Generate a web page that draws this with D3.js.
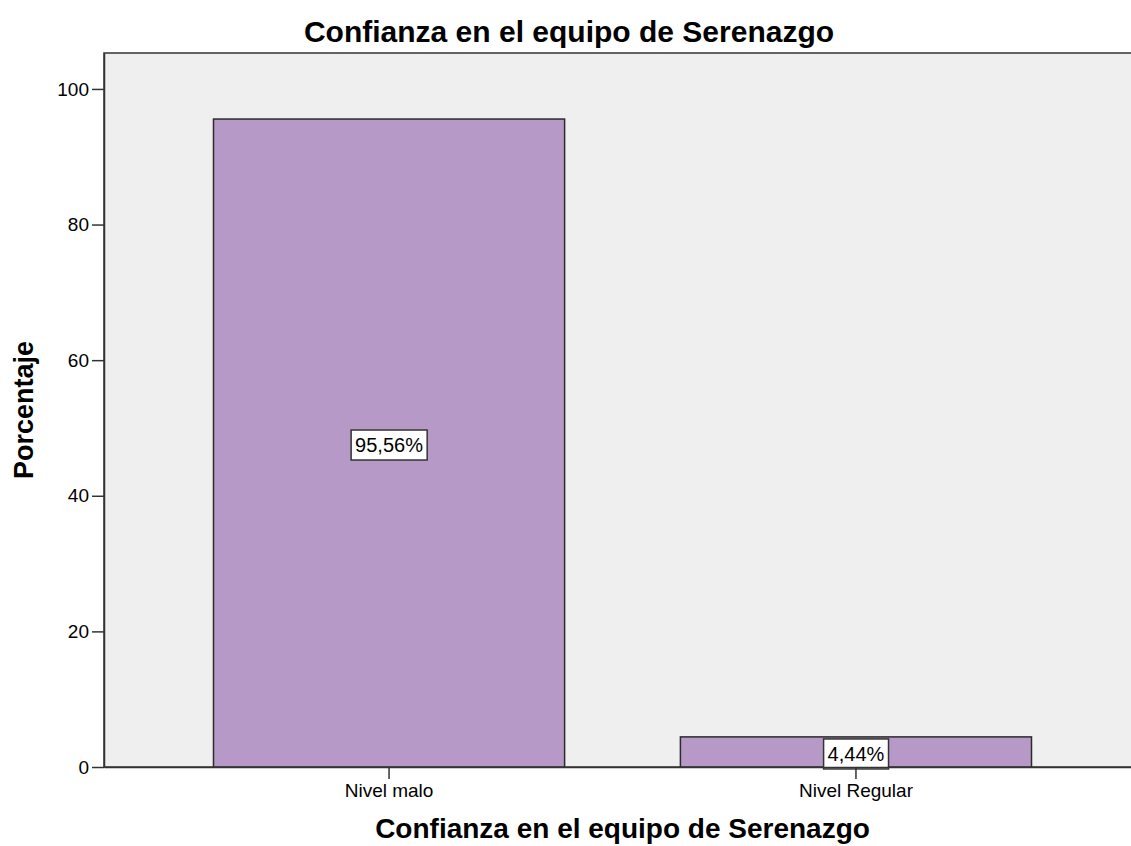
<!DOCTYPE html>
<html>
<head>
<meta charset="utf-8">
<script src="https://cdn.jsdelivr.net/npm/d3@7"></script>
<style>
  body { margin: 0; background: #fff; }
  text { font-family: "Liberation Sans", Arial, sans-serif; fill: #000; }
</style>
</head>
<body>
<div id="chart"></div>
<script>
const categories = ['Nivel malo', 'Nivel Regular'];
const values = [95.56, 4.44];
const labels = ['95,56%', '4,44%'];
const yTicks = [0, 20, 40, 60, 80, 100];

const width = 1131, height = 846;
const plotL = 104, plotR = 1141, plotT = 53, plotB = 767;

const svg = d3.select('#chart').append('svg')
  .attr('width', width)
  .attr('height', height);

// plot background
svg.append('rect')
  .attr('x', plotL).attr('y', plotT)
  .attr('width', plotR - plotL).attr('height', plotB - plotT)
  .attr('fill', '#efefef')
  .attr('stroke', '#333').attr('stroke-width', 1.5);

const x = d3.scaleBand()
  .domain(categories)
  .range([plotL, plotR])
  .paddingInner(0.248)
  .paddingOuter(0.2345);

const y = d3.scaleLinear()
  .domain([0, 105.3])
  .range([plotB, plotT]);

svg.selectAll('.bar')
  .data(values)
  .enter()
  .append('rect')
  .attr('class', 'bar')
  .attr('x', (d, i) => x(categories[i]))
  .attr('y', d => y(d))
  .attr('width', x.bandwidth())
  .attr('height', d => y(0) - y(d))
  .attr('fill', '#b799c8')
  .attr('stroke', '#2b2b2b')
  .attr('stroke-width', 1.5);

// value labels
const lab = svg.selectAll('.lab')
  .data(values)
  .enter()
  .append('g')
  .attr('class', 'lab')
  .attr('transform', (d, i) => `translate(${x(categories[i]) + x.bandwidth() / 2},${(y(d) + y(0)) / 2 + 2})`);

lab.append('text')
  .attr('text-anchor', 'middle')
  .attr('dy', '0.36em')
  .style('font-size', '20px')
  .text((d, i) => labels[i]);

lab.each(function () {
  const g = d3.select(this);
  const bb = g.select('text').node().getBBox();
  g.insert('rect', 'text')
    .attr('x', bb.x - 4).attr('y', -15)
    .attr('width', bb.width + 8).attr('height', 30)
    .attr('fill', '#fff')
    .attr('stroke', '#333').attr('stroke-width', 1.5);
});

// axes
const yAxis = svg.append('g')
  .attr('transform', `translate(${plotL},0)`)
  .call(d3.axisLeft(y).tickValues(yTicks).tickSize(12).tickSizeOuter(0).tickPadding(3));
yAxis.select('.domain').attr('stroke', '#333').attr('stroke-width', 1.5);
yAxis.selectAll('.tick line').attr('stroke', '#333').attr('stroke-width', 1.5);
yAxis.selectAll('.tick text').style('font-size', '19px').style('font-family', '"Liberation Sans", Arial, sans-serif');

const xAxis = svg.append('g')
  .attr('transform', `translate(0,${plotB})`)
  .call(d3.axisBottom(x).tickSize(12).tickSizeOuter(0).tickPadding(5));
xAxis.select('.domain').attr('stroke', '#333').attr('stroke-width', 1.5);
xAxis.selectAll('.tick line').attr('stroke', '#333').attr('stroke-width', 1.5);
xAxis.selectAll('.tick text').style('font-size', '19px').style('font-family', '"Liberation Sans", Arial, sans-serif');

// titles
svg.append('text')
  .attr('x', 569).attr('y', 42)
  .attr('text-anchor', 'middle')
  .style('font-size', '30px').style('font-weight', 'bold')
  .text('Confianza en el equipo de Serenazgo');

svg.append('text')
  .attr('x', (plotL + plotR) / 2).attr('y', 838)
  .attr('text-anchor', 'middle')
  .style('font-size', '28px').style('font-weight', 'bold')
  .text('Confianza en el equipo de Serenazgo');

svg.append('text')
  .attr('transform', `translate(33,${(plotT + plotB) / 2}) rotate(-90)`)
  .attr('text-anchor', 'middle')
  .style('font-size', '27px').style('font-weight', 'bold')
  .text('Porcentaje');
</script>
</body>
</html>
